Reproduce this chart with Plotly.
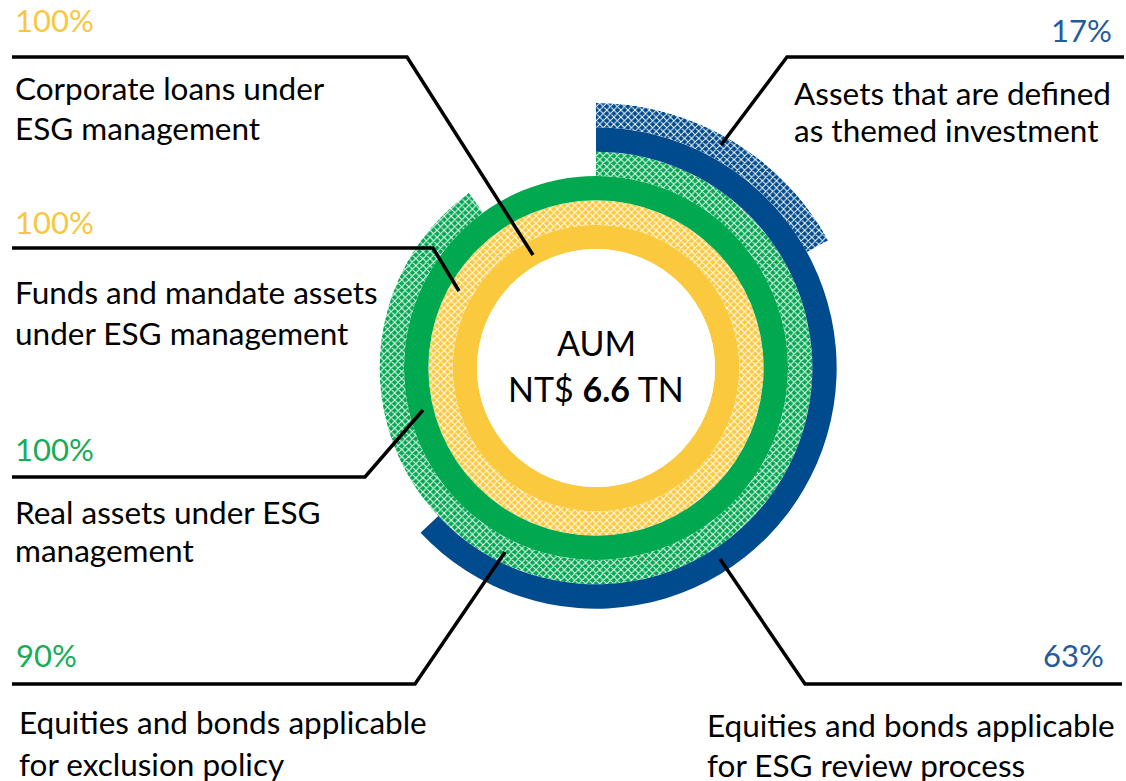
import plotly.graph_objects as go

# ring data, innermost first
labels = [
    ["Corporate loans under", "ESG management"],
    ["Funds and mandate assets", "under ESG management"],
    ["Real assets under ESG", "management"],
    ["Equities and bonds applicable", "for exclusion policy"],
    ["Equities and bonds applicable", "for ESG review process"],
    ["Assets that are defined", "as themed investment"],
]
percent = [100, 100, 100, 90, 63, 17]
hatched = [False, True, False, True, False, True]
ring_colors = ["#FBC93D", "#FBC93D", "#00A84F", "#00A84F", "#004B8D", "#004B8D"]
text_colors = ["#F8C73F", "#F8C73F", "#17AD57", "#17AD57", "#1F5C9E", "#1F5C9E"]

W, H = 1126, 781
CX, CY, R = 596, 368, 265
FONT = "Lato"


def px(x, y):
    return x / W, 1 - y / H


fig = go.Figure()
for i, (p, col, hat) in enumerate(zip(percent, ring_colors, hatched)):
    marker = dict(color=col, line=dict(width=0))
    if hat:
        marker["pattern"] = dict(shape="x", fgcolor="white", bgcolor=col,
                                 size=5, solidity=0.35, fillmode="replace")
    fig.add_trace(go.Barpolar(
        r=[1], base=[i], theta=[p * 3.6 / 2], width=[p * 3.6],
        marker=marker, showlegend=False, hoverinfo="skip",
    ))

x0, y1 = px(CX - R, CY - R)
x1, y0 = px(CX + R, CY + R)
fig.update_layout(
    width=W, height=H,
    margin=dict(l=0, r=0, t=0, b=0),
    paper_bgcolor="white", plot_bgcolor="white",
    polar=dict(
        domain=dict(x=[x0, x1], y=[y0, y1]),
        hole=119 / R,
        bgcolor="rgba(0,0,0,0)",
        radialaxis=dict(range=[0, 6], visible=False),
        angularaxis=dict(rotation=90, direction="clockwise", visible=False),
    ),
    font=dict(family=FONT, color="black"),
)

# label layout: (pct pos, pct anchor, text x, text line ys, leader points)
layout_info = [
    ((13, 20), "left", 13, [88, 128], [(12, 57), (407, 57), (533, 255)]),
    ((13, 222), "left", 13, [292, 333], [(12, 248), (433, 248), (459, 291)]),
    ((13, 449), "left", 13, [512, 550], [(12, 477), (365, 477), (423, 410)]),
    ((14, 655), "left", 17, [722, 764], [(12, 684), (415, 684), (505, 552)]),
    ((1106, 655), "right", 705, [725, 765], [(1122, 684), (805, 684), (720, 559)]),
    ((1114, 30), "right", 792, [93, 130], [(1124, 57), (787, 57), (721, 145)]),
]

for i, (ppos, panchor, tx, tys, pts) in enumerate(layout_info):
    ax, ay = px(*ppos)
    fig.add_annotation(x=ax, y=ay, xref="paper", yref="paper", text=f"{percent[i]}%",
                       showarrow=False, xanchor=panchor, yanchor="middle",
                       font=dict(size=31, color=text_colors[i], family=FONT))
    for line, ty in zip(labels[i], tys):
        lx, ly = px(tx, ty)
        fig.add_annotation(x=lx, y=ly, xref="paper", yref="paper", text=line,
                           showarrow=False, xanchor="left", yanchor="middle",
                           font=dict(size=31.5, color="black", family=FONT))
    path = "M " + " L ".join(f"{px(x, y)[0]},{px(x, y)[1]}" for x, y in pts)
    fig.add_shape(type="path", path=path, xref="paper", yref="paper",
                  line=dict(color="black", width=3.5))

cx, cy = px(CX, 342)
fig.add_annotation(x=cx, y=cy, xref="paper", yref="paper", text="AUM", showarrow=False,
                   font=dict(size=34, color="black", family=FONT))
cx, cy = px(CX, 388)
fig.add_annotation(x=cx, y=cy, xref="paper", yref="paper", text="NT$ <b>6.6</b> TN",
                   showarrow=False, font=dict(size=34, color="black", family=FONT))

fig.write_html("out.html", config={"displayModeBar": False},
               post_script="document.body.style.margin='0';")
